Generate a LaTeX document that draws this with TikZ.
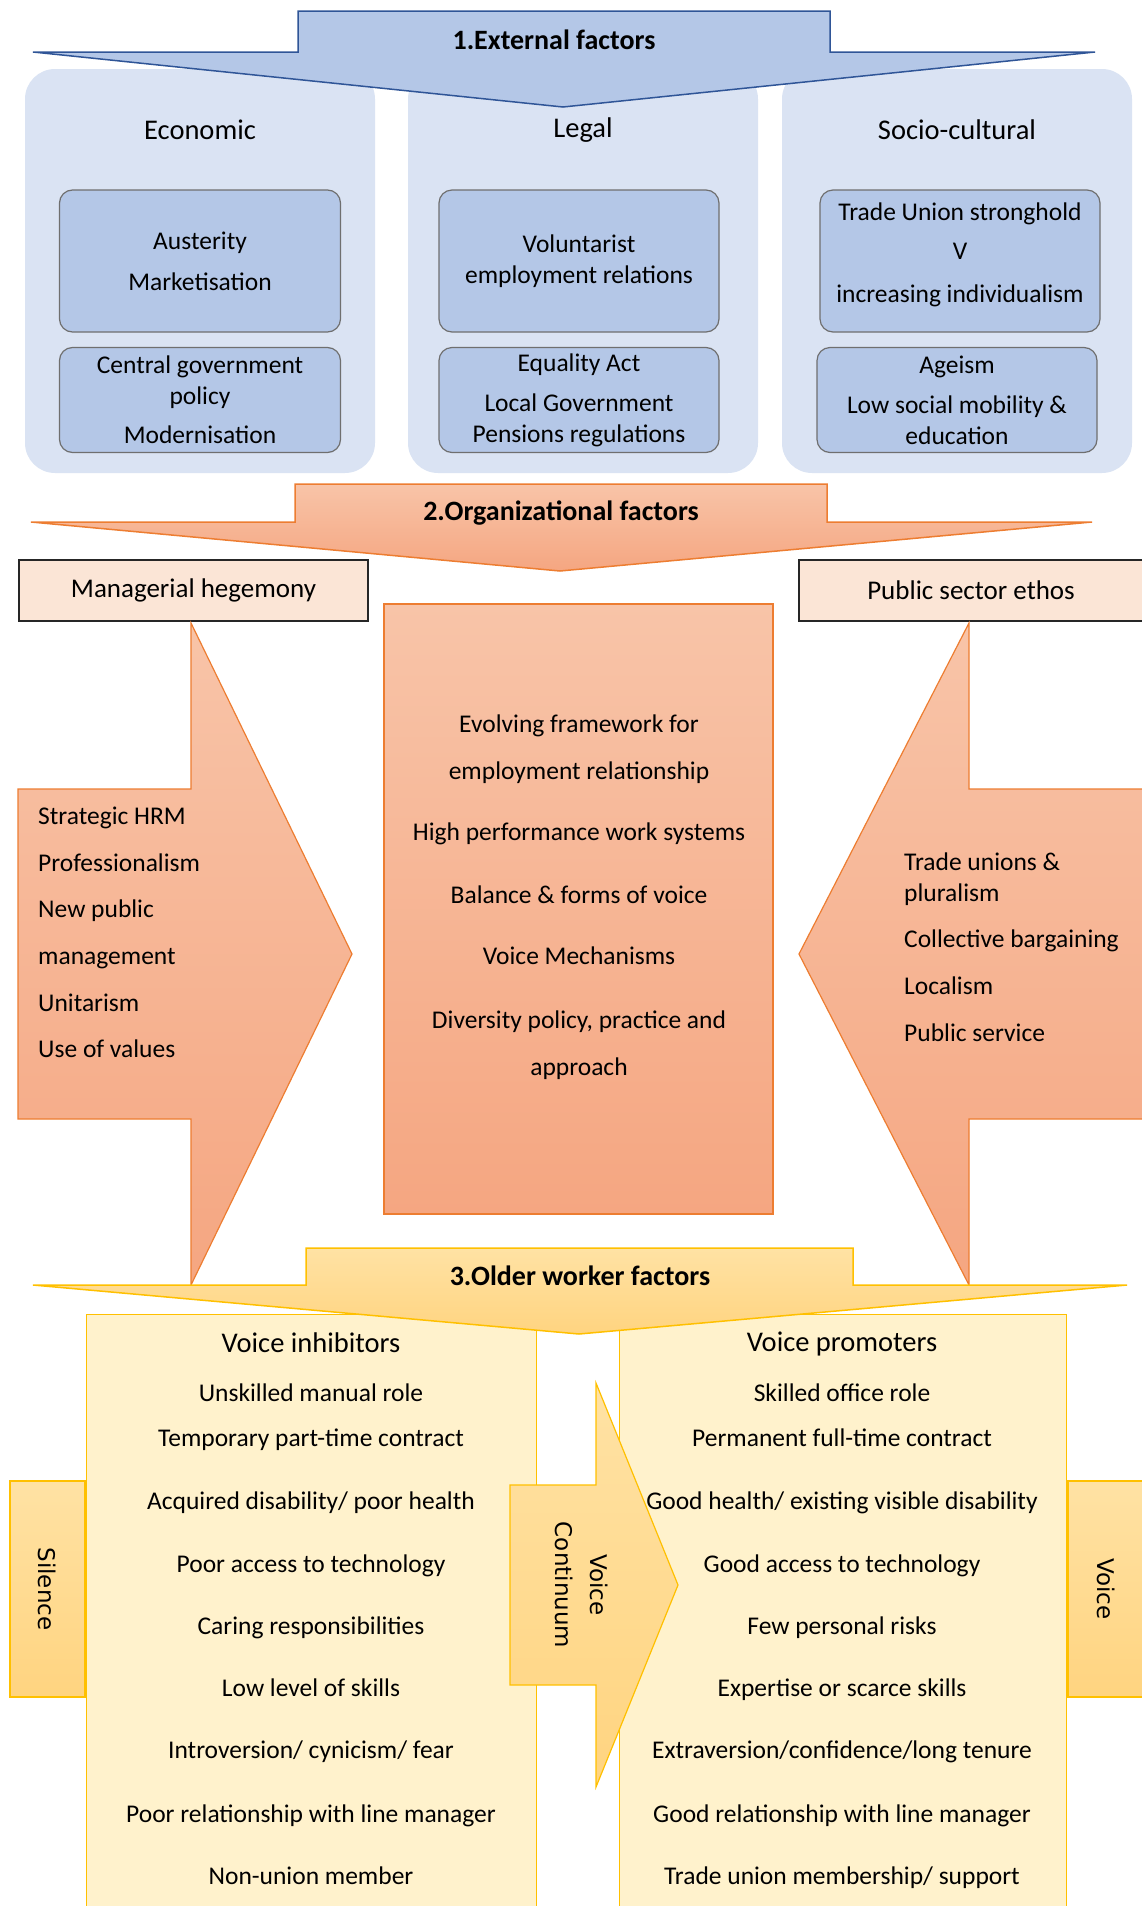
\documentclass[tikz,border=0pt]{standalone}
\usepackage{fontspec}
\setmainfont{Carlito}
\newfontfamily\labelfont{DejaVu Sans}
\definecolor{extfill}{HTML}{B4C7E7}
\definecolor{extline}{HTML}{2F5597}
\definecolor{extpanelfill}{HTML}{DAE3F3}
\definecolor{extboxline}{HTML}{6F6F6F}
\definecolor{orgtop}{HTML}{F8C4A8}
\definecolor{orgbottom}{HTML}{F5A681}
\definecolor{orgline}{HTML}{ED7D31}
\definecolor{orglight}{HTML}{FBE5D6}
\definecolor{oldtop}{HTML}{FFE2A4}
\definecolor{oldbottom}{HTML}{FFD480}
\definecolor{oldline}{HTML}{FFC000}
\definecolor{oldpanelfill}{HTML}{FFF2CC}

\begin{document}
\begin{tikzpicture}[x=1pt, y=-1pt,
    extpanel/.style={fill=extpanelfill, rounded corners=30pt, inner sep=0pt},
    extbox/.style={draw=extboxline, fill=extfill, rounded corners=13pt, line width=1.2pt, align=center, font=\fontsize{25.5}{31}\selectfont},
    catlabel/.style={font=\fontsize{28.5}{34}\selectfont, inner sep=0pt},
    arrowtitle/.style={font=\fontsize{28}{34}\selectfont\bfseries, inner sep=0pt},
    listtext/.style={font=\fontsize{25.5}{31}\selectfont, inner sep=0pt},
    orgbox/.style={draw=black!85, fill=orglight, line width=1.5pt, font=\fontsize{27}{32}\selectfont},
    orgshape/.style={draw=orgline, top color=orgtop, bottom color=orgbottom, line width=1.2pt},
    oldpanel/.style={draw=oldline, fill=oldpanelfill, line width=1pt, inner sep=0pt},
    oldshape/.style={draw=oldline, top color=oldtop, bottom color=oldbottom, line width=1.5pt},
    sidelabel/.style={font=\labelfont\fontsize{23}{35}\selectfont, rotate=-90, align=center, inner sep=0pt}
]
\useasboundingbox (0,0) rectangle (1141,1906);

% 1. external factors
\node[extpanel, minimum width=350pt, minimum height=404pt] (econ) at (200,271) {};
\node[extpanel, minimum width=350pt, minimum height=404pt] (legal) at (583,271) {};
\node[extpanel, minimum width=350pt, minimum height=404pt] (socio) at (957,271) {};
\node[catlabel] (econlbl) at (200,130) {Economic};
\node[catlabel] (legallbl) at (583,130) {Legal};
\node[catlabel] (sociolbl) at (957,130) {Socio-cultural};

\node[extbox, minimum width=281pt, minimum height=142pt] (austerity) at (200,261) {Austerity\\[10pt]Marketisation};
\node[extbox, minimum width=280pt, minimum height=142pt] (volunt) at (579,261) {Voluntarist\\employment relations};
\node[extbox, minimum width=280pt, minimum height=142pt] (union) at (960,261) {};
\node[listtext, align=center] (uniontext) at (960,255) {Trade Union stronghold\\[8pt]V\\[12pt]increasing individualism};
\node[extbox, minimum width=281pt, minimum height=105pt] (central) at (200,400) {Central government\\policy\\[8pt]Modernisation};
\node[extbox, minimum width=280pt, minimum height=105pt] (equality) at (579,400) {Equality Act\\[9pt]Local Government\\Pensions regulations};
\node[extbox, minimum width=280pt, minimum height=105pt] (ageism) at (957,400) {Ageism\\[9pt]Low social mobility \&\\education};

\draw[draw=extline, fill=extfill, line width=1.5pt] (298,11) -- (830,11) -- (830,52) -- (1095,52) -- (563,107) -- (33,52) -- (298,52) -- cycle;
\node[arrowtitle] (exttitle) at (554,40) {1.External factors};

% 2. organizational factors
\draw[orgshape, line width=1.5pt] (295,484) -- (827,484) -- (827,522) -- (1092,522) -- (560,571) -- (31,522) -- (295,522) -- cycle;
\node[arrowtitle] (orgtitle) at (561,513) {2.Organizational factors};

\node[orgbox, minimum width=349pt, minimum height=61pt] (hegemony) at (193.5,590.5) {Managerial hegemony};
\node[orgbox, minimum width=344pt, minimum height=61pt] (ethos) at (971,590.5) {Public sector ethos};

\draw[orgshape] (18,789) -- (191,789) -- (191,623) -- (352,954) -- (191,1285) -- (191,1119) -- (18,1119) -- cycle;
\draw[orgshape] (1146,789) -- (969,789) -- (969,623) -- (799,954) -- (969,1285) -- (969,1119) -- (1146,1119) -- cycle;
\node[listtext, font=\fontsize{25.5}{46.6}\selectfont, align=left, anchor=west] (hrmlist) at (38,932.5) {Strategic HRM\\Professionalism\\New public\\management\\Unitarism\\Use of values};
\node[listtext, align=left, anchor=west] (ethoslist) at (904,947.5) {Trade unions \&\\pluralism\\[15pt]Collective bargaining\\[16pt]Localism\\[16pt]Public service};

\node[orgshape, minimum width=389pt, minimum height=610pt] (framework) at (578.5,909) {};
\node[listtext, font=\fontsize{25.5}{47}\selectfont, align=center] (frametext) at (579,897) {Evolving framework for\\employment relationship\\[14pt]High performance work systems\\[16pt]Balance \& forms of voice\\[14pt]Voice Mechanisms\\[17pt]Diversity policy, practice and\\approach};

% 3. older worker factors
\node[oldpanel, minimum width=450pt, minimum height=600pt] (inhib) at (311,1614) {};
\node[oldpanel, minimum width=447pt, minimum height=600pt] (promo) at (842.5,1614) {};
\node[catlabel] (inhiblbl) at (311,1343) {Voice inhibitors};
\node[catlabel] (promolbl) at (842,1344) {Voice promoters};
\node[listtext, font=\fontsize{25.5}{45}\selectfont, align=center] (inhiblist) at (311,1634) {Unskilled manual role\\Temporary part-time contract\\[18pt]Acquired disability/ poor health\\[18pt]Poor access to technology\\[17pt]Caring responsibilities\\[17pt]Low level of skills\\[17pt]Introversion/ cynicism/ fear\\[19pt]Poor relationship with line manager\\[17pt]Non-union member};
\node[listtext, font=\fontsize{25.5}{45}\selectfont, align=center] (promolist) at (842,1636.5) {Skilled office role\\Permanent full-time contract\\[18pt]Good health/ existing visible disability\\[18pt]Good access to technology\\[17pt]Few personal risks\\[17pt]Expertise or scarce skills\\[17pt]Extraversion/confidence/long tenure\\[19pt]Good relationship with line manager\\[17pt]Trade union membership/ support};

\draw[oldshape] (306,1248) -- (853,1248) -- (853,1285) -- (1127,1285) -- (579,1334) -- (33,1285) -- (306,1285) -- cycle;
\node[arrowtitle] (oldtitle) at (580,1276) {3.Older worker factors};

\node[oldshape, sidelabel, minimum width=216pt, minimum height=75pt] (silence) at (47.5,1589) {Silence};
\node[oldshape, sidelabel, minimum width=216pt, minimum height=77pt] (voice) at (1106.5,1589) {Voice};

\draw[oldshape, line width=1.2pt] (510,1485) -- (596,1485) -- (596,1383) -- (678,1585) -- (596,1787) -- (596,1685) -- (510,1685) -- cycle;
\node[sidelabel] (continuum) at (582,1585) {Voice\\Continuum};

\end{tikzpicture}
\end{document}
